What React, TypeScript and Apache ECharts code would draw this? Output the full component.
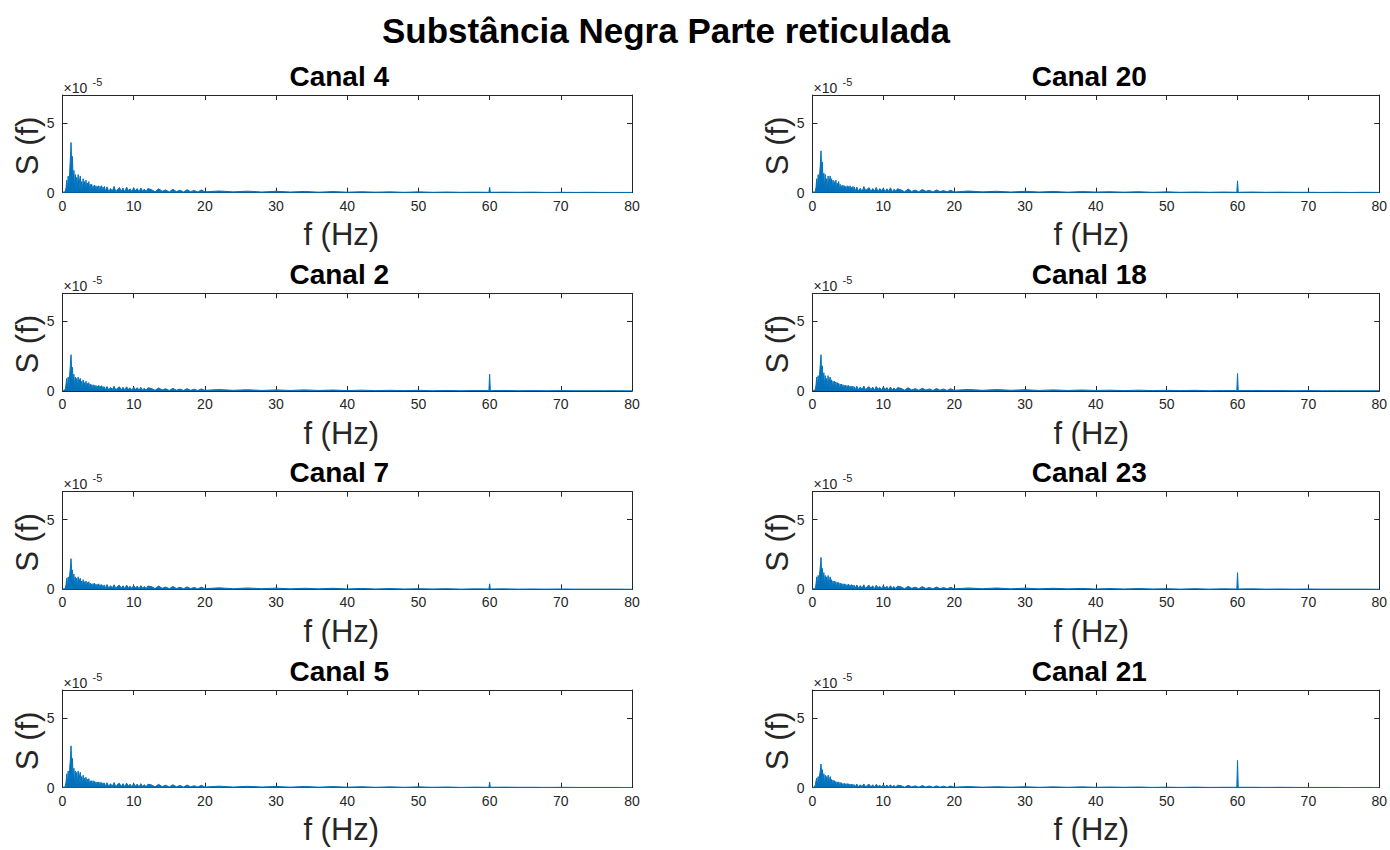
import React, { useEffect, useRef } from "react";
import * as echarts from "echarts";

// Power spectra, values in units of 1e-5 (the axis carries a ×10^-5 multiplier).
// Sampling grid in Hz: [start, end, step] segments.
const FREQ_SEGMENTS: [number, number, number][] = [
  [0, 6, 0.1],
  [6.25, 12, 0.25],
  [12.5, 20, 0.5],
  [22, 58, 2],
  [59.9, 60.1, 0.1],
  [62, 80, 2],
];

const freqHz: number[] = [];
for (const [a, b, s] of FREQ_SEGMENTS) {
  const n = Math.round((b - a) / s);
  for (let k = 0; k <= n; k++) freqHz.push(Math.round((a + k * s) * 100) / 100);
}

const canal4 = [
  // 0–6 Hz
  0.02, 0.05, 0.03, 0.08, 0.12, 0.35, 0.9, 0.2, 1.2, 0.3,
  1.4, 2.4, 3.6, 1.8, 2.6, 0.6, 1.6, 0.3, 1.3, 0.2,
  1.1, 0.3, 1.3, 0.15, 0.9, 1.2, 0.2, 0.8, 0.1, 1.0,
  0.2, 0.8, 0.15, 0.9, 0.1, 0.7, 0.2, 0.8, 0.1, 0.6,
  0.15, 0.6, 0.1, 0.5, 0.12, 0.55, 0.08, 0.5, 0.1, 0.45,
  0.1, 0.5, 0.08, 0.45, 0.12, 0.5, 0.08, 0.4, 0.1, 0.45,
  0.08,
  // 6.25–12 Hz
  0.42, 0.08, 0.3, 0.12, 0.45, 0.06, 0.25, 0.38, 0.1, 0.33,
  0.05, 0.4, 0.15, 0.28, 0.07, 0.36, 0.12, 0.3, 0.06, 0.34,
  0.1, 0.26, 0.08, 0.3,
  // 12.5–20 Hz
  0.22, 0.06, 0.28, 0.1, 0.2, 0.05, 0.25, 0.08, 0.18, 0.05,
  0.22, 0.07, 0.16, 0.05, 0.2, 0.06,
  // 22–58 Hz
  0.12, 0.06, 0.11, 0.05, 0.1, 0.05, 0.09, 0.04, 0.08, 0.04,
  0.07, 0.04, 0.06, 0.03, 0.06, 0.03, 0.05, 0.03, 0.04,
  // 60 Hz line
  0.03, 0.4, 0.03,
  // 62–80 Hz
  0.04, 0.03, 0.04, 0.02, 0.03, 0.02, 0.03, 0.02, 0.02, 0.02,
];

const canal20 = [
  0.02, 0.04, 0.06, 0.05, 0.1, 0.4, 1.0, 0.25, 1.3, 0.3,
  1.2, 2.0, 3.0, 1.5, 2.2, 0.5, 1.4, 0.3, 1.3, 0.2,
  1.0, 0.2, 1.2, 0.2, 0.9, 1.2, 0.15, 1.0, 0.2, 0.9,
  0.15, 0.8, 0.1, 0.9, 0.15, 0.7, 0.1, 0.8, 0.12, 0.6,
  0.1, 0.5, 0.08, 0.55, 0.12, 0.5, 0.08, 0.45, 0.1, 0.5,
  0.08, 0.45, 0.07, 0.5, 0.1, 0.4, 0.07, 0.45, 0.1, 0.4,
  0.07,
  0.4, 0.1, 0.32, 0.06, 0.44, 0.15, 0.27, 0.36, 0.08, 0.3,
  0.12, 0.38, 0.06, 0.3, 0.14, 0.33, 0.07, 0.28, 0.1, 0.35,
  0.06, 0.24, 0.12, 0.28,
  0.2, 0.07, 0.26, 0.09, 0.19, 0.06, 0.23, 0.1, 0.17, 0.05,
  0.2, 0.08, 0.15, 0.06, 0.18, 0.05,
  0.12, 0.06, 0.1, 0.05, 0.1, 0.05, 0.09, 0.04, 0.08, 0.05,
  0.07, 0.04, 0.07, 0.03, 0.06, 0.03, 0.05, 0.03, 0.05,
  0.03, 0.85, 0.03,
  0.05, 0.03, 0.04, 0.03, 0.03, 0.02, 0.03, 0.02, 0.03, 0.02,
];

const canal2 = [
  0.02, 0.03, 0.05, 0.07, 0.15, 0.5, 0.9, 0.2, 1.0, 0.3,
  1.1, 1.8, 2.6, 1.3, 1.7, 0.4, 1.2, 0.2, 1.0, 0.15,
  0.9, 0.2, 1.0, 0.1, 0.8, 0.9, 0.15, 0.7, 0.1, 0.8,
  0.1, 0.6, 0.12, 0.7, 0.08, 0.55, 0.1, 0.6, 0.07, 0.5,
  0.1, 0.45, 0.07, 0.45, 0.1, 0.4, 0.06, 0.4, 0.08, 0.35,
  0.06, 0.4, 0.08, 0.35, 0.06, 0.38, 0.07, 0.32, 0.06, 0.3,
  0.06,
  0.32, 0.07, 0.26, 0.1, 0.34, 0.05, 0.22, 0.3, 0.08, 0.27,
  0.06, 0.3, 0.12, 0.22, 0.05, 0.28, 0.1, 0.24, 0.06, 0.26,
  0.08, 0.2, 0.06, 0.23,
  0.18, 0.05, 0.22, 0.08, 0.16, 0.04, 0.19, 0.06, 0.14, 0.04,
  0.17, 0.05, 0.13, 0.04, 0.15, 0.05,
  0.1, 0.05, 0.09, 0.04, 0.08, 0.04, 0.08, 0.04, 0.07, 0.03,
  0.06, 0.03, 0.05, 0.03, 0.05, 0.02, 0.04, 0.02, 0.04,
  0.03, 1.2, 0.03,
  0.04, 0.02, 0.03, 0.02, 0.03, 0.02, 0.02, 0.02, 0.02, 0.01,
];

const canal18 = [
  0.02, 0.04, 0.04, 0.08, 0.12, 0.45, 1.0, 0.25, 1.1, 0.2,
  1.2, 1.9, 2.6, 1.2, 1.8, 0.4, 1.3, 0.25, 1.1, 0.15,
  0.9, 0.15, 1.1, 0.15, 0.8, 1.0, 0.1, 0.8, 0.15, 0.7,
  0.1, 0.7, 0.08, 0.65, 0.12, 0.6, 0.1, 0.55, 0.07, 0.5,
  0.08, 0.5, 0.1, 0.45, 0.07, 0.4, 0.08, 0.42, 0.06, 0.38,
  0.08, 0.4, 0.06, 0.36, 0.07, 0.33, 0.06, 0.35, 0.06, 0.3,
  0.05,
  0.34, 0.08, 0.28, 0.1, 0.36, 0.06, 0.24, 0.31, 0.09, 0.28,
  0.05, 0.32, 0.12, 0.24, 0.06, 0.3, 0.1, 0.25, 0.05, 0.28,
  0.09, 0.21, 0.07, 0.24,
  0.19, 0.06, 0.23, 0.08, 0.17, 0.05, 0.2, 0.07, 0.15, 0.04,
  0.18, 0.06, 0.14, 0.04, 0.16, 0.05,
  0.11, 0.05, 0.1, 0.05, 0.09, 0.04, 0.08, 0.04, 0.07, 0.04,
  0.06, 0.03, 0.06, 0.03, 0.05, 0.03, 0.05, 0.02, 0.04,
  0.03, 1.25, 0.03,
  0.04, 0.03, 0.03, 0.02, 0.03, 0.02, 0.02, 0.02, 0.02, 0.02,
];

const canal7 = [
  0.02, 0.03, 0.05, 0.06, 0.1, 0.35, 0.8, 0.2, 0.9, 0.25,
  1.0, 1.5, 2.2, 1.1, 1.4, 0.3, 1.1, 0.2, 0.9, 0.15,
  0.8, 0.15, 0.9, 0.1, 0.7, 0.8, 0.1, 0.6, 0.12, 0.7,
  0.1, 0.55, 0.08, 0.6, 0.1, 0.5, 0.07, 0.55, 0.08, 0.45,
  0.07, 0.4, 0.08, 0.42, 0.07, 0.45, 0.05, 0.38, 0.08, 0.35,
  0.06, 0.4, 0.07, 0.33, 0.06, 0.35, 0.06, 0.3, 0.05, 0.32,
  0.05,
  0.35, 0.08, 0.27, 0.12, 0.33, 0.06, 0.24, 0.3, 0.09, 0.26,
  0.05, 0.31, 0.11, 0.23, 0.06, 0.29, 0.1, 0.24, 0.05, 0.27,
  0.08, 0.21, 0.06, 0.24,
  0.2, 0.06, 0.24, 0.08, 0.17, 0.05, 0.21, 0.07, 0.15, 0.05,
  0.18, 0.06, 0.14, 0.04, 0.16, 0.05,
  0.11, 0.05, 0.1, 0.05, 0.09, 0.04, 0.08, 0.04, 0.08, 0.03,
  0.07, 0.03, 0.06, 0.03, 0.05, 0.03, 0.05, 0.02, 0.04,
  0.03, 0.4, 0.03,
  0.04, 0.02, 0.03, 0.02, 0.03, 0.02, 0.02, 0.02, 0.02, 0.01,
];

const canal23 = [
  0.02, 0.04, 0.05, 0.07, 0.12, 0.4, 0.9, 0.25, 1.0, 0.3,
  1.1, 1.6, 2.3, 1.1, 1.5, 0.35, 1.2, 0.25, 1.0, 0.2,
  0.9, 0.15, 1.0, 0.15, 0.7, 0.9, 0.1, 0.7, 0.12, 0.6,
  0.1, 0.6, 0.12, 0.55, 0.08, 0.5, 0.1, 0.5, 0.07, 0.45,
  0.08, 0.42, 0.07, 0.4, 0.06, 0.4, 0.05, 0.36, 0.08, 0.34,
  0.06, 0.38, 0.06, 0.32, 0.05, 0.34, 0.06, 0.3, 0.05, 0.3,
  0.05,
  0.32, 0.08, 0.27, 0.1, 0.33, 0.06, 0.22, 0.29, 0.08, 0.26,
  0.05, 0.3, 0.11, 0.22, 0.06, 0.27, 0.09, 0.23, 0.05, 0.26,
  0.08, 0.2, 0.06, 0.23,
  0.18, 0.05, 0.22, 0.08, 0.16, 0.05, 0.2, 0.06, 0.14, 0.04,
  0.17, 0.05, 0.13, 0.04, 0.15, 0.04,
  0.1, 0.05, 0.1, 0.04, 0.09, 0.04, 0.08, 0.04, 0.07, 0.03,
  0.06, 0.03, 0.06, 0.03, 0.05, 0.02, 0.05, 0.02, 0.04,
  0.03, 1.2, 0.03,
  0.04, 0.02, 0.03, 0.02, 0.03, 0.02, 0.02, 0.02, 0.02, 0.01,
];

const canal5 = [
  0.02, 0.03, 0.06, 0.05, 0.12, 0.4, 1.0, 0.25, 1.2, 0.3,
  1.3, 2.0, 3.0, 1.4, 2.1, 0.45, 1.4, 0.3, 1.2, 0.2,
  1.1, 0.2, 1.2, 0.15, 0.9, 1.1, 0.15, 0.8, 0.1, 0.9,
  0.15, 0.7, 0.12, 0.75, 0.1, 0.6, 0.1, 0.65, 0.08, 0.5,
  0.1, 0.5, 0.07, 0.5, 0.08, 0.45, 0.07, 0.42, 0.08, 0.4,
  0.07, 0.42, 0.06, 0.38, 0.06, 0.36, 0.06, 0.35, 0.05, 0.34,
  0.05,
  0.36, 0.09, 0.29, 0.11, 0.37, 0.06, 0.25, 0.32, 0.08, 0.29,
  0.06, 0.33, 0.12, 0.25, 0.06, 0.3, 0.1, 0.26, 0.05, 0.29,
  0.08, 0.22, 0.07, 0.25,
  0.2, 0.06, 0.24, 0.08, 0.18, 0.05, 0.21, 0.07, 0.16, 0.05,
  0.19, 0.06, 0.14, 0.05, 0.17, 0.05,
  0.11, 0.05, 0.1, 0.05, 0.09, 0.04, 0.09, 0.04, 0.08, 0.04,
  0.07, 0.03, 0.06, 0.03, 0.06, 0.03, 0.05, 0.02, 0.04,
  0.03, 0.4, 0.03,
  0.04, 0.03, 0.03, 0.02, 0.03, 0.02, 0.02, 0.02, 0.02, 0.01,
];

const canal21 = [
  0.02, 0.03, 0.05, 0.1, 0.2, 0.5, 0.7, 0.15, 0.8, 0.2,
  0.9, 1.2, 1.7, 0.9, 1.3, 0.3, 1.0, 0.15, 0.9, 0.12,
  0.8, 0.15, 0.9, 0.1, 0.6, 0.8, 0.1, 0.6, 0.08, 0.55,
  0.08, 0.5, 0.07, 0.45, 0.08, 0.4, 0.06, 0.42, 0.05, 0.38,
  0.06, 0.35, 0.05, 0.3, 0.04, 0.32, 0.05, 0.28, 0.04, 0.3,
  0.04, 0.28, 0.04, 0.26, 0.05, 0.25, 0.04, 0.24, 0.04, 0.22,
  0.04,
  0.26, 0.06, 0.21, 0.08, 0.27, 0.05, 0.18, 0.24, 0.06, 0.21,
  0.04, 0.24, 0.09, 0.18, 0.05, 0.22, 0.07, 0.19, 0.04, 0.21,
  0.06, 0.16, 0.05, 0.18,
  0.14, 0.04, 0.17, 0.06, 0.13, 0.04, 0.15, 0.05, 0.12, 0.03,
  0.13, 0.04, 0.11, 0.03, 0.12, 0.04,
  0.08, 0.04, 0.07, 0.04, 0.07, 0.03, 0.06, 0.03, 0.06, 0.03,
  0.05, 0.03, 0.05, 0.02, 0.04, 0.02, 0.04, 0.02, 0.03,
  0.03, 1.95, 0.03,
  0.03, 0.02, 0.03, 0.02, 0.02, 0.02, 0.02, 0.01, 0.02, 0.01,
];

const PANELS = [
  { title: "Canal 4", values: canal4, row: 0, col: 0 },
  { title: "Canal 20", values: canal20, row: 0, col: 1 },
  { title: "Canal 2", values: canal2, row: 1, col: 0 },
  { title: "Canal 18", values: canal18, row: 1, col: 1 },
  { title: "Canal 7", values: canal7, row: 2, col: 0 },
  { title: "Canal 23", values: canal23, row: 2, col: 1 },
  { title: "Canal 5", values: canal5, row: 3, col: 0 },
  { title: "Canal 21", values: canal21, row: 3, col: 1 },
];

const MAIN_TITLE = "Substância Negra Parte reticulada";
const X_NAME = "f (Hz)";
const Y_NAME = "S (f)";

const FONT = "'Liberation Sans', Arial, Helvetica, sans-serif";
const INK = "#262626";
const LINE = "#0072BD";

const COL_LEFT = [62.5, 812.5];
const PLOT_W = 569.5;
const ROW_TOP = [95, 293.3, 491.7, 690];
const PLOT_H = 97.7;

function buildOption() {
  const grid: any[] = [];
  const xAxis: any[] = [];
  const yAxis: any[] = [];
  const series: any[] = [];
  const graphic: any[] = [];

  graphic.push({
    type: "text",
    x: 666,
    y: 30,
    style: {
      text: MAIN_TITLE,
      font: `bold 35px ${FONT}`,
      fill: "#000",
      align: "center",
      verticalAlign: "middle",
    },
  });

  PANELS.forEach((p, i) => {
    const left = COL_LEFT[p.col];
    const top = ROW_TOP[p.row];
    const cx = left + PLOT_W / 2;
    grid.push({ left, top, width: PLOT_W, height: PLOT_H, containLabel: false });

    const lineStyle = { color: INK, width: 1 };
    const baseX = {
      type: "value",
      gridIndex: i,
      min: 0,
      max: 80,
      interval: 10,
      splitLine: { show: false },
      axisLine: { show: true, onZero: false, lineStyle },
      axisTick: { show: true, inside: true, length: 5, lineStyle },
    };
    xAxis.push({
      ...baseX,
      position: "bottom",
      axisLabel: { color: INK, fontSize: 14, fontFamily: FONT, margin: 6 },
    });
    xAxis.push({ ...baseX, position: "top", axisLabel: { show: false } });

    const baseY = {
      type: "value",
      gridIndex: i,
      min: 0,
      max: 7,
      interval: 5,
      splitLine: { show: false },
      axisLine: { show: true, onZero: false, lineStyle },
      axisTick: { show: true, inside: true, length: 5, lineStyle },
    };
    yAxis.push({
      ...baseY,
      position: "left",
      axisLabel: {
        color: INK,
        fontSize: 14,
        fontFamily: FONT,
        margin: 8,
        showMaxLabel: false,
      },
    });
    yAxis.push({ ...baseY, position: "right", axisLabel: { show: false } });

    // dense spectrum: jagged trace with the space under it filled in the same colour
    series.push({
      type: "line",
      xAxisIndex: 2 * i,
      yAxisIndex: 2 * i,
      data: freqHz.map((f, k) => [f, p.values[k]]),
      showSymbol: false,
      symbol: "none",
      lineStyle: { color: LINE, width: 1 },
      areaStyle: { color: LINE, opacity: 1 },
      itemStyle: { color: LINE },
      clip: true,
      z: 1,
    });

    // panel title
    graphic.push({
      type: "text",
      x: cx - 8,
      y: top - 19,
      style: {
        text: p.title,
        font: `bold 28px ${FONT}`,
        fill: "#000",
        align: "center",
        verticalAlign: "middle",
      },
    });
    // x-axis name
    graphic.push({
      type: "text",
      x: cx - 6,
      y: top + PLOT_H + 42,
      style: {
        text: X_NAME,
        font: `31px ${FONT}`,
        fill: INK,
        align: "center",
        verticalAlign: "middle",
      },
    });
    // y-axis name
    graphic.push({
      type: "text",
      x: left - 35,
      y: top + PLOT_H / 2 + 2,
      rotation: Math.PI / 2,
      style: {
        text: Y_NAME,
        font: `31px ${FONT}`,
        fill: INK,
        align: "center",
        verticalAlign: "middle",
      },
    });
    // exponent multiplier
    graphic.push({
      type: "text",
      x: left + 1,
      y: top - 7.5,
      style: {
        text: "×10",
        font: `14px ${FONT}`,
        fill: INK,
        align: "left",
        verticalAlign: "middle",
      },
    });
    graphic.push({
      type: "text",
      x: left + 30,
      y: top - 13.5,
      style: {
        text: "-5",
        font: `11px ${FONT}`,
        fill: INK,
        align: "left",
        verticalAlign: "middle",
      },
    });
  });

  return {
    animation: false,
    backgroundColor: "#ffffff",
    grid,
    xAxis,
    yAxis,
    series,
    graphic,
  };
}

export default function App() {
  const ref = useRef<HTMLDivElement>(null);
  useEffect(() => {
    if (!ref.current) return;
    const chart = echarts.init(ref.current, undefined, { renderer: "svg" });
    chart.setOption(buildOption() as any);
    return () => chart.dispose();
  }, []);
  return (
    <div
      ref={ref}
      style={{
        position: "fixed",
        left: 0,
        top: 0,
        width: 1390,
        height: 850,
        background: "#fff",
      }}
    />
  );
}
